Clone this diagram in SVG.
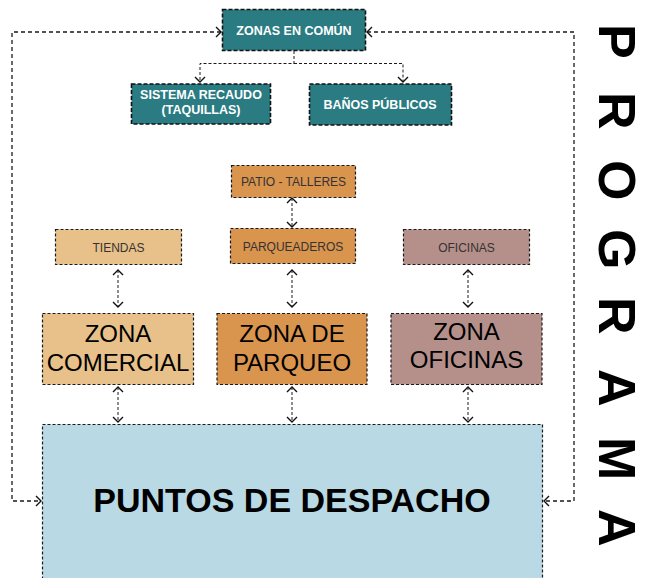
<svg xmlns="http://www.w3.org/2000/svg" width="647" height="578" viewBox="0 0 647 578">
<style>
.box{stroke:#1a1a1a;stroke-width:1.2;stroke-dasharray:3 2}
.teal{fill:#2a7b82;stroke:#111;stroke-width:1.6;stroke-dasharray:4 2}
.tan{fill:#e8c089}
.org{fill:#d9944e}
.mauve{fill:#b58f8a}
.blue{fill:#b9dae4}
.tw{font-family:"Liberation Sans",Arial,sans-serif;font-weight:bold;font-size:12.5px;fill:#fff;text-anchor:middle}
.ts{font-family:"Liberation Sans",Arial,sans-serif;font-size:12px;fill:#333;text-anchor:middle}
.tz{font-family:"Liberation Sans",Arial,sans-serif;font-size:24px;fill:#000;text-anchor:middle}
.conn{fill:none;stroke:#1a1a1a;stroke-width:1;stroke-dasharray:3 2}
.loop{fill:none;stroke:#1a1a1a;stroke-width:1.3;stroke-dasharray:4 3}
</style>
<defs>
<marker id="ah" markerUnits="userSpaceOnUse" markerWidth="12" markerHeight="14" refX="6" refY="7" orient="auto-start-reverse" viewBox="0 0 12 14">
<path d="M1,2 L6,7 L1,12" fill="none" stroke="#111" stroke-width="1.4"/>
</marker>
</defs>
<g id="connectors">
<path class="loop" d="M221,32 H12 V501 H41" marker-start="url(#ah)" marker-end="url(#ah)"/>
<path class="loop" d="M367,32 H574 V501 H544" marker-start="url(#ah)" marker-end="url(#ah)"/>
<path class="conn" d="M294,51 V63.5 H200 V82" marker-end="url(#ah)"/>
<path class="conn" d="M294,63.5 H403 V82" marker-end="url(#ah)"/>
<path class="conn" d="M292,198 V227" marker-start="url(#ah)" marker-end="url(#ah)"/>
<path class="conn" d="M118,270 V307" marker-start="url(#ah)" marker-end="url(#ah)"/>
<path class="conn" d="M292,270 V307" marker-start="url(#ah)" marker-end="url(#ah)"/>
<path class="conn" d="M468,270 V307" marker-start="url(#ah)" marker-end="url(#ah)"/>
<path class="conn" d="M118,387 V422" marker-start="url(#ah)" marker-end="url(#ah)"/>
<path class="conn" d="M292,387 V422" marker-start="url(#ah)" marker-end="url(#ah)"/>
<path class="conn" d="M468,387 V422" marker-start="url(#ah)" marker-end="url(#ah)"/>
</g>
<g id="zonas-comun"><rect class="teal" x="222.5" y="9.5" width="143" height="41"/><text class="tw" x="294" y="34.5">ZONAS EN COMÚN</text></g>
<g id="sistema-recaudo"><rect class="teal" x="131.5" y="84" width="139" height="40"/><text class="tw" x="201" y="99">SISTEMA RECAUDO</text><text class="tw" x="201" y="114">(TAQUILLAS)</text></g>
<g id="banos"><rect class="teal" x="309.5" y="84" width="142" height="41"/><text class="tw" x="380" y="108.5">BAÑOS PÚBLICOS</text></g>
<g id="patio"><rect class="box org" x="231.5" y="165.5" width="124" height="32"/><text class="ts" x="293.5" y="186">PATIO - TALLERES</text></g>
<g id="tiendas"><rect class="box tan" x="55.5" y="229.5" width="126" height="35"/><text class="ts" x="118.5" y="251.5">TIENDAS</text></g>
<g id="parqueaderos"><rect class="box org" x="230.5" y="228.5" width="125" height="35"/><text class="ts" x="293" y="250.5">PARQUEADEROS</text></g>
<g id="oficinas"><rect class="box mauve" x="403.5" y="229.5" width="126" height="35"/><text class="ts" x="466.5" y="251.5">OFICINAS</text></g>
<g id="zona-comercial"><rect class="box tan" x="42.5" y="313.5" width="151" height="71"/><text class="tz" x="118" y="342">ZONA</text><text class="tz" x="118" y="371">COMERCIAL</text></g>
<g id="zona-parqueo"><rect class="box org" x="217" y="313.5" width="150" height="71"/><text class="tz" x="292" y="342">ZONA DE</text><text class="tz" x="292" y="371">PARQUEO</text></g>
<g id="zona-oficinas"><rect class="box mauve" x="391" y="313.5" width="151" height="71"/><text class="tz" x="466.5" y="340">ZONA</text><text class="tz" x="466.5" y="368">OFICINAS</text></g>
<g id="puntos"><rect class="box blue" x="42.5" y="424.5" width="500" height="170"/><text x="292" y="512" font-family="'Liberation Sans',Arial,sans-serif" font-weight="bold" font-size="34" text-anchor="middle" fill="#000">PUNTOS DE DESPACHO</text></g>
<g id="programa"><text transform="translate(599,0) rotate(90)" x="24 92 160 229 297 369 437 509" y="0" font-family="'Liberation Sans',Arial,sans-serif" font-weight="bold" font-size="52" fill="#000">PROGRAMA</text></g>
</svg>
